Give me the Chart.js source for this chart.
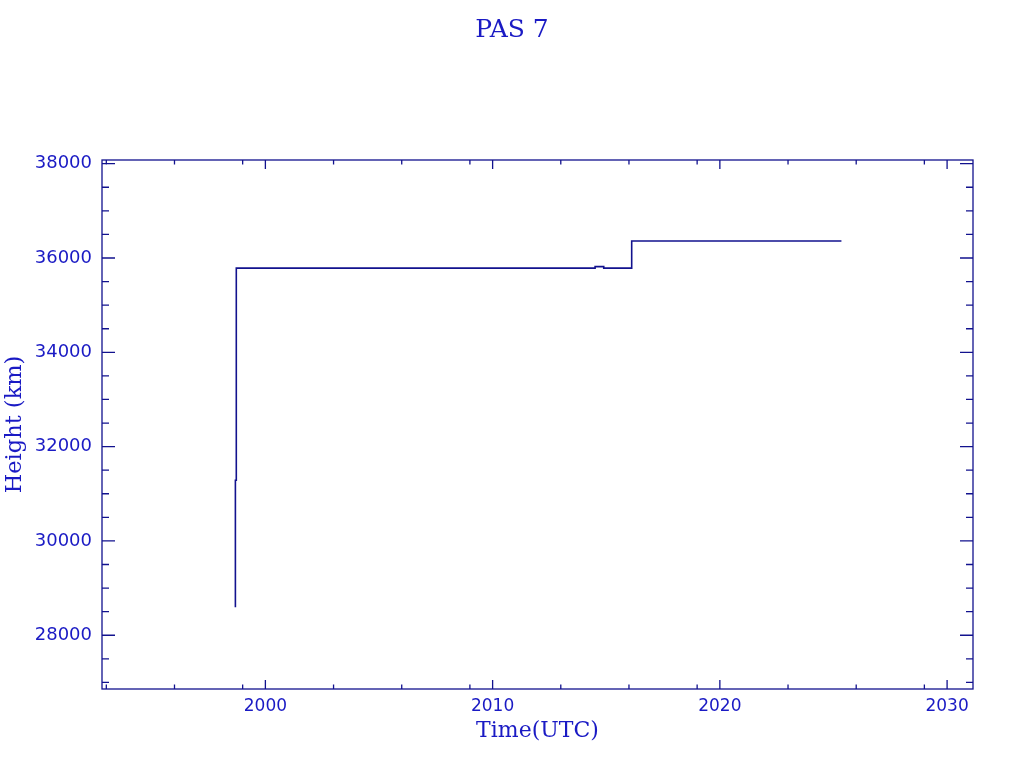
<!DOCTYPE html>
<html>
<head>
<meta charset="utf-8">
<title>PAS 7</title>
<script src="https://cdn.jsdelivr.net/npm/chart.js@4.4.1/dist/chart.umd.min.js"></script>
<style>
  body { margin: 0; background: #ffffff; }
  #chart { display: block; }
</style>
</head>
<body>
<canvas id="chart" width="1024" height="768"></canvas>
<script>
// height history (decimal year, km)
const times = [1998.68, 1998.68, 1998.72, 2014.51, 2014.89, 2016.12, 2025.35];
const heights = [28594, 31286, 35786, 35816, 35786, 36360, 36360];

const xMajor = [2000, 2010, 2020, 2030];
const xMinor = [1993, 1996, 1999, 2003, 2006, 2009, 2013, 2016, 2019, 2023, 2026, 2029];
const yMajor = [28000, 30000, 32000, 34000, 36000, 38000];
const yMinor = [27000, 27500, 28500, 29000, 29500, 30500, 31000, 31500, 32500, 33000, 33500,
                34500, 35000, 35500, 36500, 37000, 37500];

const xRange = [1992.81, 2031.14];
const yRange = [26860, 38078];

const chartTitle = 'PAS 7';
const textColor = '#1a1ac4';
const lineColor = '#12128e';

// box with inward ticks on all four sides, plus the page title centred on the canvas
const frame = {
    id: 'frame',
    afterDraw(chart) {
        const { ctx, chartArea: a, scales } = chart;
        const x = scales.x, y = scales.y;
        ctx.save();
        ctx.strokeStyle = lineColor;
        ctx.lineWidth = 1.3;
        ctx.strokeRect(a.left, a.top, a.right - a.left, a.bottom - a.top);
        ctx.beginPath();
        const xt = (v, len) => {
            const px = x.getPixelForValue(v);
            ctx.moveTo(px, a.bottom); ctx.lineTo(px, a.bottom - len);
            ctx.moveTo(px, a.top); ctx.lineTo(px, a.top + len);
        };
        const yt = (v, len) => {
            const py = y.getPixelForValue(v);
            ctx.moveTo(a.left, py); ctx.lineTo(a.left + len, py);
            ctx.moveTo(a.right, py); ctx.lineTo(a.right - len, py);
        };
        xMajor.forEach(v => xt(v, 9));
        xMinor.forEach(v => xt(v, 4.5));
        yMajor.forEach(v => yt(v, 13));
        yMinor.forEach(v => yt(v, 7));
        ctx.stroke();

        ctx.fillStyle = textColor;
        ctx.font = '25px "DejaVu Serif"';
        ctx.textAlign = 'center';
        ctx.textBaseline = 'middle';
        ctx.fillText(chartTitle, chart.width / 2, 30);
        ctx.restore();
    }
};

new Chart(document.getElementById('chart'), {
    type: 'line',
    data: {
        datasets: [{
            data: times.map((t, i) => ({ x: t, y: heights[i] })),
            borderColor: lineColor,
            borderWidth: 1.6,
            pointRadius: 0,
            stepped: 'before',
            fill: false
        }]
    },
    options: {
        responsive: false,
        animation: false,
        layout: { padding: { left: 0, right: 51, top: 160, bottom: 0 } },
        plugins: {
            legend: { display: false },
            tooltip: { enabled: false },
            title: { display: false }
        },
        scales: {
            x: {
                type: 'linear',
                min: xRange[0],
                max: xRange[1],
                grid: { display: false, drawTicks: false },
                border: { display: false },
                afterBuildTicks: s => { s.ticks = xMajor.map(v => ({ value: v })); },
                afterFit: s => { s.height = 79; },
                ticks: {
                    color: textColor,
                    font: { family: 'DejaVu Sans', size: 17 },
                    padding: 7,
                    maxRotation: 0,
                    autoSkip: false,
                    callback: v => String(v)
                },
                title: {
                    display: true,
                    text: 'Time(UTC)',
                    color: textColor,
                    font: { family: 'DejaVu Serif', size: 22 },
                    padding: { top: 0, bottom: 24 }
                }
            },
            y: {
                type: 'linear',
                min: yRange[0],
                max: yRange[1],
                grid: { display: false, drawTicks: false },
                border: { display: false },
                afterBuildTicks: s => { s.ticks = yMajor.map(v => ({ value: v })); },
                afterFit: s => { s.width = 102; },
                ticks: {
                    color: textColor,
                    font: { family: 'DejaVu Sans', size: 18 },
                    padding: 10,
                    autoSkip: false,
                    callback: v => String(v)
                },
                title: {
                    display: true,
                    text: 'Height (km)',
                    color: textColor,
                    font: { family: 'DejaVu Serif', size: 22.5 },
                    padding: { top: 2, bottom: 0 }
                }
            }
        }
    },
    plugins: [frame]
});
</script>
</body>
</html>
